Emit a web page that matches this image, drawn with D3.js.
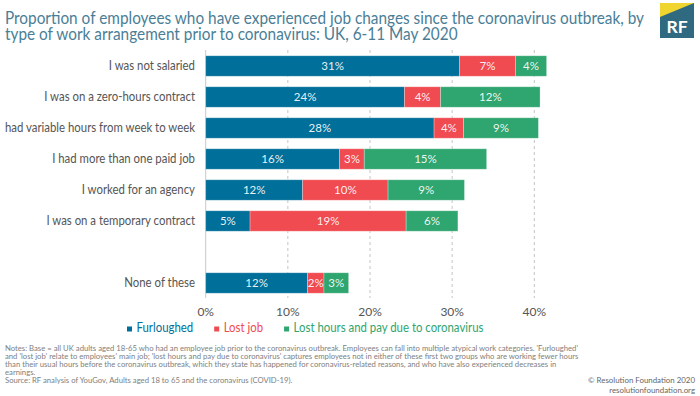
<!DOCTYPE html>
<html><head><meta charset="utf-8">
<script src="https://cdn.jsdelivr.net/npm/d3@7"></script>
<style>body{margin:0;background:#fff}svg{display:block}</style>
</head><body><svg id="c" width="700" height="396"></svg>
<script>
const categories = ["I was not salaried", "I was on a zero-hours contract", "had variable hours from week to week",
  "I had more than one paid job", "I worked for an agency", "I was on a temporary contract", "", "None of these"];
const seriesNames = ["Furloughed", "Lost job", "Lost hours and pay due to coronavirus"];
const furloughed = [30.9, 24.2, 27.8, 16.3, 11.8, 5.4, null, 12.4];
const lostJob    = [6.8, 4.4, 3.6, 3.0, 10.4, 19.0, null, 2.0];
const lostHours  = [3.8, 12.1, 9.1, 14.9, 9.3, 6.3, null, 3.0];
const xTicks = [0, 10, 20, 30, 40];
const titleLines = ["Proportion of employees who have experienced job changes since the coronavirus outbreak, by",
  "type of work arrangement prior to coronavirus: UK, 6-11 May 2020"];
const notesLines = [
  "Notes: Base = all UK adults aged 18-65 who had an employee job prior to the coronavirus outbreak. Employees can fall into multiple atypical work categories. 'Furloughed'",
  "and 'lost job' relate to employees' main job; 'lost hours and pay due to coronavirus' captures employees not in either of these first two groups who are working fewer hours",
  "than their usual hours before the coronavirus outbreak, which they state has happened for coronavirus-related reasons, and who have also experienced decreases in",
  "earnings.",
  "Source: RF analysis of YouGov, Adults aged 18 to 65 and the coronavirus (COVID-19)."];
const creditLines = ["\u00A9 Resolution Foundation 2020", "resolutionfoundation.org"];
const colors = ["#006f99", "#f04b51", "#2fa56f"];

const FONT = "Lato, 'Open Sans', sans-serif";
const svg = d3.select("#c").style("font-family", FONT);

const x = d3.scaleLinear().domain([0, 40]).range([205.7, 534.3]);
const y = d3.scaleBand().domain(categories).range([51, 298]).paddingInner(0.34).paddingOuter(0.154);

// title
const tl = svg.append("g").selectAll("text").data(titleLines).join("text")
  .attr("x", 5).attr("y", (d, i) => 24.3 + i * 15.3)
  .attr("fill", "#4a7e96").attr("font-size", 16.5).text(d => d);
const tRatio = 639 / tl.nodes()[0].getComputedTextLength();
tl.each(function () { const n = this.getComputedTextLength(); d3.select(this).attr("textLength", n * tRatio).attr("lengthAdjust", "spacingAndGlyphs"); });

// logo
const logo = svg.append("g");
logo.append("rect").attr("x", 660).attr("y", 3).attr("width", 34).attr("height", 35).attr("fill", "#2f6a80");
logo.append("polygon").attr("points", "660,3 694,3 660,17").attr("fill", "#f0d430");
logo.append("text").attr("x", 677).attr("y", 33.3).attr("text-anchor", "middle")
  .attr("fill", "#fff").attr("font-weight", "bold").attr("font-size", 17.5).text("RF");

// grid
const g = svg.append("g");
g.selectAll("line.grid").data(xTicks.filter(t => t > 0)).join("line")
  .attr("x1", d => x(d)).attr("x2", d => x(d)).attr("y1", 50).attr("y2", 298)
  .attr("stroke", "#c4c4c4").attr("stroke-dasharray", "3,3");
g.append("line").attr("x1", x(0)).attr("x2", x(0)).attr("y1", 50).attr("y2", 298).attr("stroke", "#c8c8c8");

// ticks
g.selectAll("text.tick").data(xTicks).join("text")
  .attr("x", d => x(d)).attr("y", 316).attr("text-anchor", "middle")
  .attr("font-size", 12).attr("fill", "#555").text(d => d + "%");

// category labels
const cl = g.selectAll("text.cat").data(categories.filter(c => c !== "")).join("text")
  .attr("x", 195).attr("y", d => y(d) + y.bandwidth() / 2).attr("dy", "0.35em")
  .attr("text-anchor", "end").attr("font-size", 12.5).attr("fill", "#555").text(d => d);
const maxW = d3.max(cl.nodes(), n => n.getComputedTextLength());
const cRatio = 190 / maxW;
cl.each(function () { const n = this.getComputedTextLength(); d3.select(this).attr("textLength", n * cRatio).attr("lengthAdjust", "spacingAndGlyphs"); });

// bars
const rows = categories.map((c, i) => ({ cat: c, [seriesNames[0]]: furloughed[i], [seriesNames[1]]: lostJob[i], [seriesNames[2]]: lostHours[i] }))
  .filter(r => r[seriesNames[0]] != null);
const stacked = d3.stack().keys(seriesNames)(rows);
const sg = g.selectAll("g.series").data(stacked).join("g").attr("fill", (d, i) => colors[i]);
sg.selectAll("rect").data(d => d).join("rect")
  .attr("x", d => x(d[0])).attr("width", d => x(d[1]) - x(d[0]))
  .attr("y", d => y(d.data.cat)).attr("height", y.bandwidth())
  .attr("stroke", "rgba(255,255,255,0.35)").attr("stroke-width", 0.8);
sg.selectAll("text").data(d => d).join("text")
  .attr("x", d => x((d[0] + d[1]) / 2)).attr("y", d => y(d.data.cat) + y.bandwidth() / 2).attr("dy", "0.35em")
  .attr("text-anchor", "middle").attr("font-size", 11.5).attr("fill", "#fff").attr("fill-opacity", 0.92)
  .text(d => Math.round(d[1] - d[0]) + "%");

// legend
let lx = 127;
seriesNames.forEach((s, i) => {
  g.append("rect").attr("x", lx).attr("y", 326.5).attr("width", 5).attr("height", 5).attr("fill", colors[i]);
  const t = g.append("text").attr("x", lx + 9.5).attr("y", 332).attr("font-size", 12.5).attr("fill", colors[i]).text(s);
  const w = t.node().getComputedTextLength() * cRatio;
  t.attr("textLength", w).attr("lengthAdjust", "spacingAndGlyphs");
  lx += 9.5 + w + 21;
});

// notes
const nl = svg.append("g").selectAll("text").data(notesLines).join("text")
  .attr("x", 5).attr("y", (d, i) => 351 + i * 8).attr("font-size", 7.6).attr("fill", "#808080").text(d => d);
const nRatio = 573 / nl.nodes()[0].getComputedTextLength();
nl.each(function () { const n = this.getComputedTextLength(); d3.select(this).attr("textLength", n * nRatio).attr("lengthAdjust", "spacingAndGlyphs"); });

// credit
const cr = svg.append("g").selectAll("text").data(creditLines).join("text")
  .attr("x", 695).attr("y", (d, i) => 383 + i * 9.5).attr("text-anchor", "end")
  .attr("font-size", 8.2).attr("fill", "#666").text(d => d);
const crRatio = 107 / cr.nodes()[0].getComputedTextLength();
cr.each(function () { const n = this.getComputedTextLength(); d3.select(this).attr("textLength", n * crRatio).attr("lengthAdjust", "spacingAndGlyphs"); });
</script></body></html>
